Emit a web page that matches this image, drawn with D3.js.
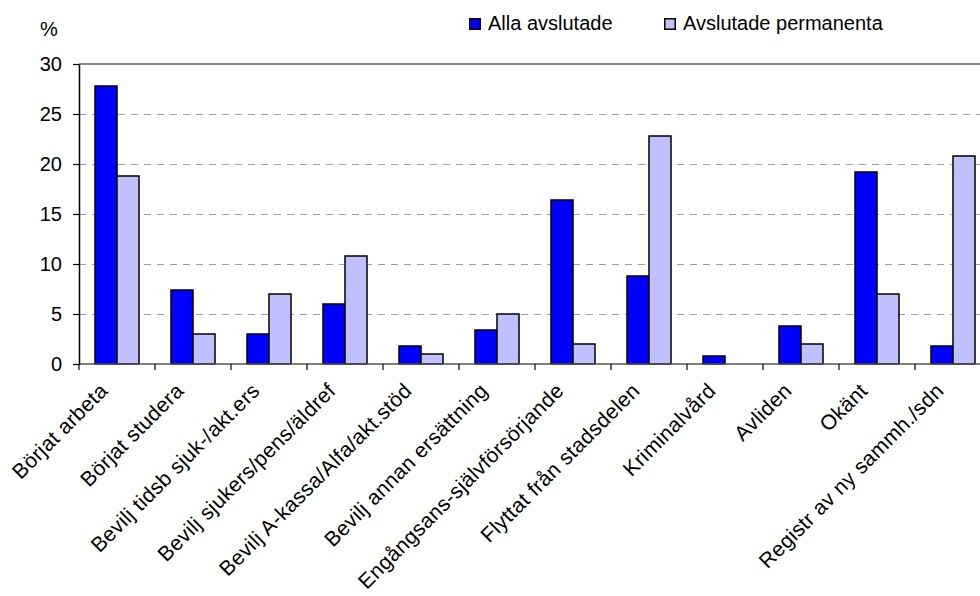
<!DOCTYPE html>
<html>
<head>
<meta charset="utf-8">
<script src="https://cdn.jsdelivr.net/npm/d3@7"></script>
<style>
  html, body { margin: 0; padding: 0; background: #fff; }
  svg { display: block; font-family: "Liberation Sans", Arial, sans-serif; }
</style>
</head>
<body>
<svg id="chart" width="980" height="596"></svg>
<script>
const categories = [
  "Börjat arbeta",
  "Börjat studera",
  "Bevilj tidsb sjuk-/akt.ers",
  "Bevilj sjukers/pens/äldref",
  "Bevilj A-kassa/Alfa/akt.stöd",
  "Bevilj annan ersättning",
  "Engångsans-självförsörjande",
  "Flyttat från stadsdelen",
  "Kriminalvård",
  "Avliden",
  "Okänt",
  "Registr av ny sammh./sdn"
];
const seriesNames = ["Alla avslutade", "Avslutade permanenta"];
const allaAvslutade = [27.8, 7.4, 3.0, 6.0, 1.8, 3.4, 16.4, 8.8, 0.8, 3.8, 19.2, 1.8];
const avslutadePermanenta = [18.8, 3.0, 7.0, 10.8, 1.0, 5.0, 2.0, 22.8, 0, 2.0, 7.0, 20.8];
const yTicks = [0, 5, 10, 15, 20, 25, 30];
const colors = ["#0000FF", "#C0C0FF"];

const svg = d3.select("#chart");
const mLeft = 79, mRight = 991, mTop = 64, mBottom = 364;

const x0 = d3.scaleBand().domain(categories).range([mLeft, mRight]).padding(0);
const x1 = d3.scaleBand().domain(seriesNames).range([16, 60]).padding(0);
const y = d3.scaleLinear().domain([0, 30]).range([mBottom, mTop]);

const values = [allaAvslutade, avslutadePermanenta];

// gridlines
svg.append("g").selectAll("line")
  .data(yTicks.filter(t => t > 0 && t < 30))
  .join("line")
  .attr("x1", mLeft).attr("x2", 980)
  .attr("y1", d => y(d)).attr("y2", d => y(d))
  .attr("stroke", "#a0a0a0").attr("stroke-width", 1)
  .attr("stroke-dasharray", "7,6")
  .attr("shape-rendering", "crispEdges");

// top border
svg.append("line")
  .attr("x1", mLeft).attr("x2", 980)
  .attr("y1", y(30)).attr("y2", y(30))
  .attr("stroke", "#888").attr("stroke-width", 2);

// bars
const groups = svg.append("g").selectAll("g")
  .data(categories)
  .join("g")
  .attr("transform", d => `translate(${x0(d)},0)`);

groups.selectAll("rect")
  .data((d, i) => seriesNames.map((s, k) => ({ s, v: values[k][i], k })).filter(o => o.v > 0))
  .join("rect")
  .attr("x", d => x1(d.s))
  .attr("width", x1.bandwidth())
  .attr("y", d => y(d.v))
  .attr("height", d => y(0) - y(d.v))
  .attr("fill", d => colors[d.k])
  .attr("stroke", "#000")
  .attr("stroke-width", 1.5);

// baseline
svg.append("line")
  .attr("x1", mLeft).attr("x2", 980)
  .attr("y1", mBottom).attr("y2", mBottom)
  .attr("stroke", "#555").attr("stroke-width", 1.5);

// y axis
const yAxis = svg.append("g")
  .attr("transform", `translate(${mLeft},0)`)
  .call(d3.axisLeft(y).tickValues(yTicks).tickSize(6).tickSizeOuter(0).tickPadding(11));
yAxis.select(".domain").attr("stroke", "#000").attr("stroke-width", 1.5);
yAxis.selectAll(".tick line").attr("stroke", "#000").attr("stroke-width", 1.2);
yAxis.selectAll(".tick text")
  .attr("font-size", 20).attr("fill", "#000")
  .attr("font-family", "Liberation Sans, Arial, sans-serif");

// x ticks at category boundaries
const bounds = categories.map(c => x0(c));
svg.append("g").selectAll("line")
  .data(bounds)
  .join("line")
  .attr("x1", d => d).attr("x2", d => d)
  .attr("y1", mBottom).attr("y2", mBottom + 6)
  .attr("stroke", "#000").attr("stroke-width", 1.2);

// x labels
svg.append("g").selectAll("text")
  .data(categories)
  .join("text")
  .attr("transform", d => `translate(${x0(d) + x0.bandwidth() / 2 - 8},${392}) rotate(-45)`)
  .attr("text-anchor", "end")
  .attr("font-size", 21)
  .attr("letter-spacing", 0.35)
  .attr("fill", "#000")
  .text(d => d);

// % label
svg.append("text")
  .attr("x", 40).attr("y", 36)
  .attr("font-size", 20).attr("fill", "#000")
  .text("%");

// legend
const legendX = [469, 664];
const lg = svg.append("g").selectAll("g")
  .data(seriesNames)
  .join("g")
  .attr("transform", (d, i) => `translate(${legendX[i]},18)`);
lg.append("rect")
  .attr("x", 0.75).attr("y", 0.75)
  .attr("width", 10.5).attr("height", 10.5)
  .attr("fill", (d, i) => colors[i])
  .attr("stroke", "#000").attr("stroke-width", 1.5);
lg.append("text")
  .attr("x", 19).attr("y", 12)
  .attr("font-size", 20).attr("fill", "#000")
  .text(d => d);
</script>
</body>
</html>
